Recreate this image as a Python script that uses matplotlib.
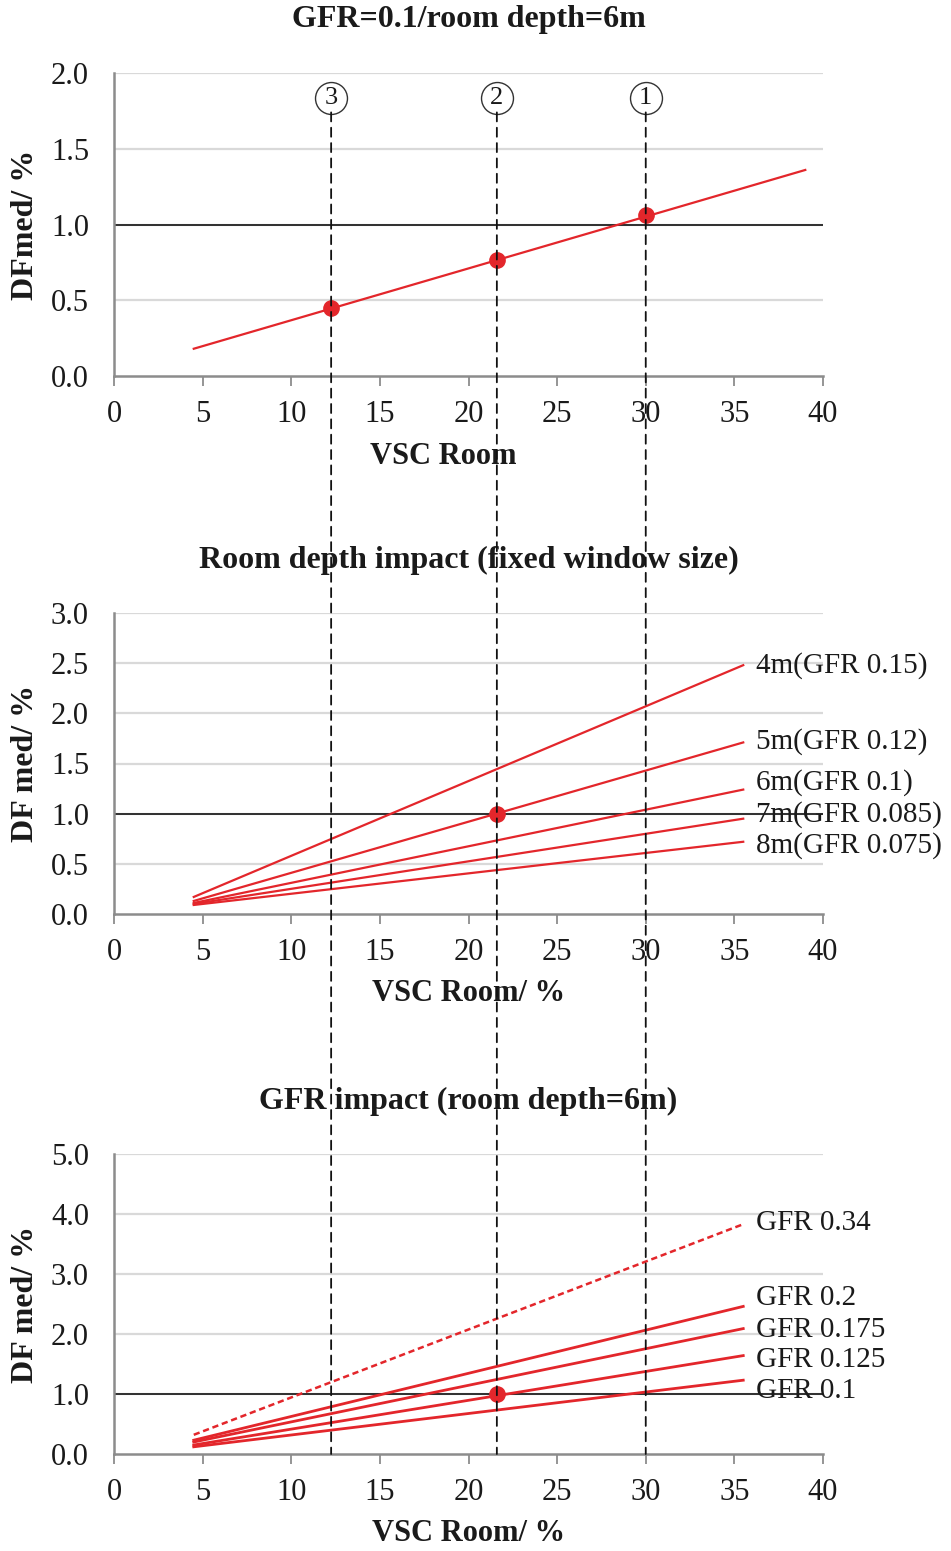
import matplotlib
matplotlib.use("Agg")
import matplotlib.pyplot as plt
from matplotlib.patches import ConnectionPatch

plt.rcParams['font.family'] = ['Liberation Serif', 'DejaVu Serif']

# cases (VSC room values marked with dashed lines)
vsc_cases = [30.0, 21.6, 12.25]
case_names = ['1', '2', '3']

# top chart: GFR=0.1 / depth 6m
vsc_top = [4.5, 39.0]
df_top = [0.18, 1.36]
df_cases = [1.063, 0.766, 0.449]

# middle chart: room depth impact
vsc_lines = [4.5, 35.5]
depth_names = ['4m(GFR 0.15)', '5m(GFR 0.12)', '6m(GFR 0.1)', '7m(GFR 0.085)', '8m(GFR 0.075)']
depth_start = [0.17, 0.13, 0.11, 0.10, 0.09]
depth_end = [2.48, 1.71, 1.24, 0.95, 0.72]
depth_label_y = [2.48, 1.72, 1.31, 0.99, 0.68]

# bottom chart: GFR impact
gfr_names = ['GFR 0.34', 'GFR 0.2', 'GFR 0.175', 'GFR 0.125', 'GFR 0.1']
gfr_start = [0.32, 0.23, 0.20, 0.15, 0.12]
gfr_end = [3.83, 2.46, 2.09, 1.64, 1.23]
gfr_label_y = [3.85, 2.60, 2.07, 1.57, 1.05]
gfr_dashed = [True, False, False, False, False]

point_vsc = 21.6
point_df = 1.0

RED = '#e3262b'
GRID = '#d9d9d9'
SPINE = '#8c8c8c'
TXT = '#1a1a1a'

W, H = 951, 1551
fig = plt.figure(figsize=(W / 100, H / 100), dpi=100)

def rect(top, bottom, left=114, right=823):
    return [left / W, 1 - bottom / H, (right - left) / W, (bottom - top) / H]

ax1 = fig.add_axes(rect(73, 376))
ax2 = fig.add_axes(rect(613, 914))
ax3 = fig.add_axes(rect(1154, 1454))


def style(ax, ymax, ystep, title, xlabel, ylabel, xlab_x=0.5):
    ax.set_xlim(0, 40)
    ax.set_ylim(0, ymax)
    ax.set_xticks(range(0, 41, 5))
    yt = [i * ystep for i in range(int(round(ymax / ystep)) + 1)]
    ax.set_yticks(yt)
    ax.set_yticklabels([f'{v:.1f}' for v in yt])
    for s in ['top', 'right']:
        ax.spines[s].set_visible(False)
    for s in ['left', 'bottom']:
        ax.spines[s].set_color(SPINE)
        ax.spines[s].set_linewidth(1.8)
    ax.tick_params(axis='y', length=0, pad=18, labelsize=22, colors=TXT)
    ax.tick_params(axis='x', length=7, width=1.3, color=SPINE, pad=10, labelsize=22, labelcolor=TXT)
    for v in yt[1:]:
        ax.axhline(v, color=GRID, lw=1.6, zorder=0)
    ax.axhline(1.0, color='#222222', lw=1.3, zorder=1)
    ax.text(0.5, 1 + 53 / 303, title, transform=ax.transAxes, ha='center', va='center',
            fontsize=23, fontweight='bold', color=TXT)
    ax.set_xlabel(xlabel, fontsize=22, fontweight='bold', color=TXT)
    ax.xaxis.set_label_coords(xlab_x, -0.265)
    ax.xaxis.label.set_va('center')
    ax.set_ylabel(ylabel, fontsize=23, fontweight='bold', color=TXT)
    ax.yaxis.set_label_coords(-0.125, 0.5)
    ax.yaxis.label.set_va('center')


style(ax1, 2.0, 0.5, 'GFR=0.1/room depth=6m', 'VSC Room', 'DFmed/ %', xlab_x=18.6 / 40)
style(ax2, 3.0, 0.5, 'Room depth impact (fixed window size)', 'VSC Room/ %', 'DF med/ %')
style(ax3, 5.0, 1.0, 'GFR impact (room depth=6m)', 'VSC Room/ %', 'DF med/ %')

# top chart
ax1.plot(vsc_top, df_top, color=RED, lw=1.6, zorder=3)
ax1.plot(vsc_cases, df_cases, 'o', color=RED, ms=11, zorder=4)

# middle chart
for name, a, b, ly in zip(depth_names, depth_start, depth_end, depth_label_y):
    ax2.plot(vsc_lines, [a, b], color=RED, lw=1.6, zorder=3)
    ax2.text(36.2, ly, name, ha='left', va='center', fontsize=21, color=TXT, clip_on=False)
ax2.plot([point_vsc], [point_df], 'o', color=RED, ms=11, zorder=4)

# bottom chart
for name, a, b, ly, d in zip(gfr_names, gfr_start, gfr_end, gfr_label_y, gfr_dashed):
    ls = (0, (2.5, 1.5)) if d else '-'
    ax3.plot(vsc_lines, [a, b], color=RED, lw=2.0 if not d else 1.8, ls=ls, zorder=3)
    ax3.text(36.2, ly, name, ha='left', va='center', fontsize=21, color=TXT, clip_on=False)
ax3.plot([point_vsc], [point_df], 'o', color=RED, ms=11, zorder=4)

# circled case numbers and dashed lines through all charts
for x, n in zip(vsc_cases, case_names):
    ax1.plot([x], [1.835], 'o', ms=23, mfc='white', mec='#333333', mew=1.0, zorder=5, clip_on=False)
    ax1.text(x, 1.835, n, ha='center', va='center', fontsize=19, color=TXT, zorder=6)
    con = ConnectionPatch(xyA=(x, 1.74), xyB=(x, 0.0), coordsA='data', coordsB='data',
                          axesA=ax1, axesB=ax3, color='#111111', lw=1.3,
                          linestyle=(0, (5, 3.5)))
    fig.add_artist(con)

fig.savefig('out.png', dpi=100, facecolor='white')
